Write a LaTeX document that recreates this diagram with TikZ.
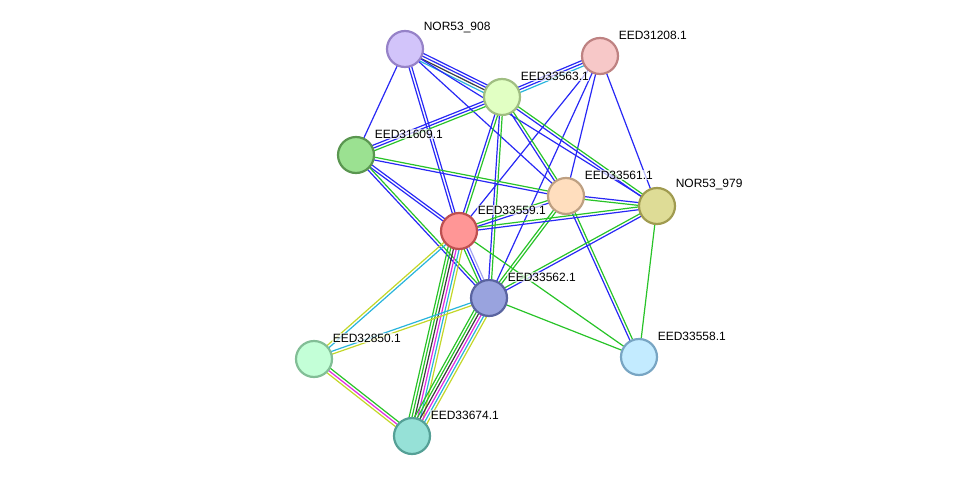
\documentclass[tikz,border=0pt]{standalone}
\usepackage{fontspec}
\setmainfont{Liberation Sans}
\usetikzlibrary{calc,backgrounds}

% evidence colours
\definecolor{cooccur}{RGB}{40,40,245}
\definecolor{neighbour}{RGB}{40,195,40}
\definecolor{database}{RGB}{40,180,220}
\definecolor{coexpr}{RGB}{60,60,60}
\definecolor{experim}{RGB}{225,40,225}
\definecolor{textmine}{RGB}{195,215,40}
\definecolor{homology}{RGB}{165,165,240}

% one line per evidence colour, side by side
\newcommand\stringlink[3]{%
  \foreach \c [count=\i] in {#3} {\xdef\nlines{\i}}%
  \foreach \c [count=\i] in {#3} {%
    \pgfmathsetmacro\off{(\i-(\nlines+1)/2)*2.8}%
    \draw[link,\c] ($(#1)!\off pt!90:(#2)$) -- ($(#2)!\off pt!-90:(#1)$);
  }}

\begin{document}
\begin{tikzpicture}
  [x=1pt, y=-1pt,
   vertex/.style={circle, line width=2.2pt, inner sep=0pt, minimum size=36pt},
   link/.style={line width=1.2pt},
   lab/.style={anchor=west, font=\fontsize{12}{14}\selectfont, fill=white,
               fill opacity=0.7, text opacity=1, inner sep=0.6pt}]

  \useasboundingbox (0,0) rectangle (975,482);

  % Proteins
  \node[vertex, fill={rgb,255:red,210;green,196;blue,250}, draw={rgb,255:red,150;green,130;blue,200}] (n908) at (405,49) {};
  \node[vertex, fill={rgb,255:red,247;green,200;blue,200}, draw={rgb,255:red,190;green,130;blue,130}] (n208) at (600,56) {};
  \node[vertex, fill={rgb,255:red,225;green,255;blue,195}, draw={rgb,255:red,160;green,190;blue,130}] (n563) at (502,97) {};
  \node[vertex, fill={rgb,255:red,155;green,225;blue,145}, draw={rgb,255:red,90;green,150;blue,80}] (n609) at (356,155) {};
  \node[vertex, fill={rgb,255:red,255;green,222;blue,190}, draw={rgb,255:red,190;green,160;blue,130}] (n561) at (566,196) {};
  \node[vertex, fill={rgb,255:red,222;green,220;blue,150}, draw={rgb,255:red,160;green,155;blue,80}] (n979) at (657,206) {};
  \node[vertex, fill={rgb,255:red,255;green,150;blue,150}, draw={rgb,255:red,190;green,80;blue,80}] (n559) at (459,231) {};
  \node[vertex, fill={rgb,255:red,153;green,163;blue,222}, draw={rgb,255:red,90;green,100;blue,160}] (n562) at (489,298) {};
  \node[vertex, fill={rgb,255:red,195;green,255;blue,215}, draw={rgb,255:red,130;green,190;blue,150}] (n850) at (314,359) {};
  \node[vertex, fill={rgb,255:red,195;green,235;blue,255}, draw={rgb,255:red,120;green,165;blue,195}] (n558) at (639,357) {};
  \node[vertex, fill={rgb,255:red,150;green,225;blue,215}, draw={rgb,255:red,85;green,160;blue,150}] (n674) at (412,436) {};

  % Links, behind the proteins
  \begin{scope}[on background layer]
    \stringlink{n908}{n563}{database,coexpr,cooccur,cooccur}
    \stringlink{n908}{n609}{cooccur}
    \stringlink{n908}{n559}{cooccur,cooccur}
    \stringlink{n908}{n561}{cooccur}
    \stringlink{n908}{n979}{cooccur}
    \stringlink{n208}{n563}{cooccur,cooccur,database}
    \stringlink{n208}{n559}{cooccur}
    \stringlink{n208}{n562}{cooccur}
    \stringlink{n208}{n561}{cooccur}
    \stringlink{n208}{n979}{cooccur}
    \stringlink{n563}{n609}{cooccur,cooccur,neighbour}
    \stringlink{n563}{n559}{cooccur,neighbour}
    \stringlink{n563}{n562}{cooccur,neighbour}
    \stringlink{n563}{n561}{cooccur,neighbour}
    \stringlink{n563}{n979}{cooccur,neighbour}
    \stringlink{n609}{n561}{cooccur,neighbour}
    \stringlink{n609}{n559}{cooccur,cooccur}
    \stringlink{n609}{n562}{cooccur,neighbour}
    \stringlink{n561}{n979}{neighbour,cooccur}
    \stringlink{n561}{n559}{neighbour,cooccur}
    \stringlink{n561}{n562}{neighbour,neighbour}
    \stringlink{n561}{n558}{cooccur,neighbour}
    \stringlink{n979}{n559}{neighbour,cooccur}
    \stringlink{n979}{n562}{neighbour,cooccur}
    \stringlink{n979}{n558}{neighbour}
    \stringlink{n559}{n562}{neighbour,cooccur,homology}
    \stringlink{n559}{n674}{neighbour,neighbour,coexpr,experim,database,textmine}
    \stringlink{n559}{n850}{textmine,database}
    \stringlink{n559}{n558}{neighbour}
    \stringlink{n562}{n674}{neighbour,neighbour,coexpr,experim,database,textmine}
    \stringlink{n562}{n850}{database,textmine}
    \stringlink{n562}{n558}{neighbour}
    \stringlink{n850}{n674}{textmine,experim,neighbour}
  \end{scope}

  % Names
  \node[lab] (l908) at ([shift={(18,-21)}]n908.center) {NOR53\_908};
  \node[lab] (l208) at ([shift={(18,-21)}]n208.center) {EED31208.1};
  \node[lab] (l563) at ([shift={(18,-21)}]n563.center) {EED33563.1};
  \node[lab] (l609) at ([shift={(18,-21)}]n609.center) {EED31609.1};
  \node[lab] (l561) at ([shift={(18,-21)}]n561.center) {EED33561.1};
  \node[lab] (l979) at ([shift={(18,-21)}]n979.center) {NOR53\_979};
  \node[lab] (l559) at ([shift={(18,-21)}]n559.center) {EED33559.1};
  \node[lab] (l562) at ([shift={(18,-21)}]n562.center) {EED33562.1};
  \node[lab] (l850) at ([shift={(18,-21)}]n850.center) {EED32850.1};
  \node[lab] (l558) at ([shift={(18,-21)}]n558.center) {EED33558.1};
  \node[lab] (l674) at ([shift={(18,-21)}]n674.center) {EED33674.1};
\end{tikzpicture}
\end{document}
